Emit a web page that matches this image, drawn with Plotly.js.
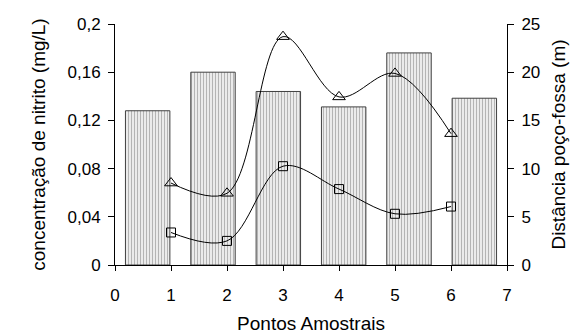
<!DOCTYPE html>
<html><head><meta charset="utf-8">
<script src="https://cdn.plot.ly/plotly-3.0.1.min.js"></script>
<style>body{margin:0;background:#fff}#chart{width:576px;height:334px}</style>
</head><body><div id="chart"></div>
<script>
const pontos = [1, 2, 3, 4, 5, 6];
const distancia = [16, 20, 18, 16.4, 22, 17.3];
const nitritoTri = [0.068, 0.0595, 0.1895, 0.1395, 0.159, 0.109];
const nitritoSq = [0.027, 0.020, 0.082, 0.063, 0.0425, 0.0485];
const leftTickVals = [0, 0.04, 0.08, 0.12, 0.16, 0.2];
const leftTickText = ['0', '0,04', '0,08', '0,12', '0,16', '0,2'];
const xTickVals = [0, 1, 2, 3, 4, 5, 6, 7];
const rightTickVals = [0, 5, 10, 15, 20, 25];

const font = 'Liberation Sans, Arial, sans-serif';
const tickSize = 17, titleSize = 19;
const data = [
  {type:'bar', x: pontos, y: distancia, xaxis:'x', yaxis:'y', width:0.68,
   marker:{color:'#e6e6e6', line:{color:'#404040', width:1},
     pattern:{shape:'|', size:3, solidity:0.4, fgcolor:'#b4b4b4', bgcolor:'#f2f2f2'}},
   showlegend:false, hoverinfo:'none'},
  {type:'scatter', mode:'lines+markers', x: pontos, y: nitritoTri, xaxis:'x2', yaxis:'y2',
   line:{shape:'spline', smoothing:1, color:'#000', width:1},
   marker:{symbol:'triangle-up-open', size:11, color:'#000', line:{width:1}}, showlegend:false},
  {type:'scatter', mode:'lines+markers', x: pontos, y: nitritoSq, xaxis:'x2', yaxis:'y2',
   line:{shape:'spline', smoothing:1, color:'#000', width:1},
   marker:{symbol:'square-open', size:9, color:'#000', line:{width:1}}, showlegend:false}
];
const layout = {
  width:576, height:334,
  margin:{l:115, r:69, t:24, b:69},
  paper_bgcolor:'#fff', plot_bgcolor:'rgba(0,0,0,0)',
  font:{family:font, size:tickSize, color:'#000'},
  xaxis:{range:[0.5, 6.5], visible:false, fixedrange:true},
  yaxis:{side:'right', range:[0, 25], tickvals:rightTickVals, ticks:'outside', ticklen:6,
    tickcolor:'#000', showline:true, linecolor:'#000', linewidth:1, showgrid:false, zeroline:false,
    tickfont:{size:tickSize, family:font}, ticklabelstandoff:4,
    title:{text:'Distância poço-fossa (m)', font:{size:titleSize, family:font}, standoff:12}},
  xaxis2:{overlaying:'x', anchor:'y2', range:[0, 7], tickvals:xTickVals, ticks:'outside', ticklen:5,
    tickcolor:'#000', showline:true, linecolor:'#000', linewidth:1, showgrid:false, zeroline:false,
    tickfont:{size:tickSize, family:font}, ticklabelstandoff:10,
    title:{text:'Pontos Amostrais', font:{size:titleSize, family:font}, standoff:12}},
  yaxis2:{overlaying:'y', side:'left', anchor:'x2', range:[0, 0.2], tickvals:leftTickVals, ticktext:leftTickText,
    ticks:'outside', ticklen:6, tickcolor:'#000', showline:true, linecolor:'#000', linewidth:1,
    showgrid:false, zeroline:false, tickfont:{size:tickSize, family:font}, ticklabelstandoff:4,
    title:{text:'concentração de nitrito (mg/L)', font:{size:titleSize, family:font}, standoff:16}}
};
Plotly.newPlot('chart', data, layout, {displayModeBar:false, staticPlot:true});
</script></body></html>
